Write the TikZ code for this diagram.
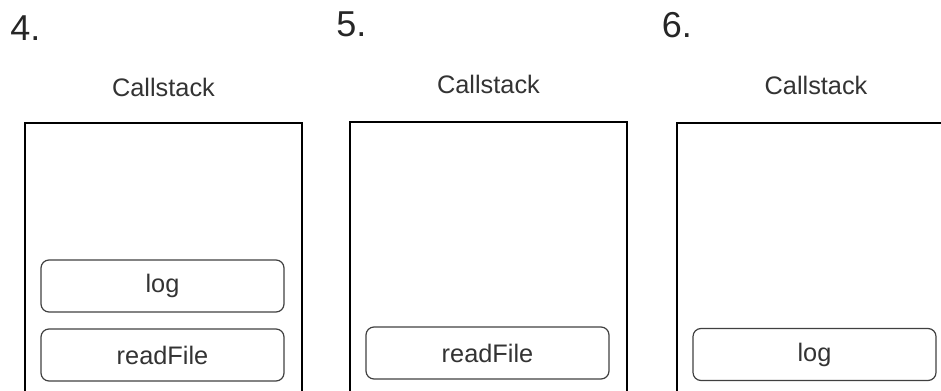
\documentclass[tikz,border=0pt]{standalone}
\usepackage{fontspec}
\setmainfont{Liberation Sans}
\begin{document}
\begin{tikzpicture}[x=0.75pt,y=-0.75pt,
  stackframe/.style={draw=black, line width=1.3pt, rectangle, anchor=north west,
    minimum width=207.75pt, minimum height=240pt, inner sep=0pt},
  callframe/.style={draw=black!75, line width=0.9pt, rectangle, rounded corners=6pt,
    minimum width=182.25pt, minimum height=39pt, inner sep=0pt,
    font=\fontsize{19}{22}\selectfont, text=black!80},
  stacktitle/.style={anchor=base, inner sep=0pt, font=\fontsize{19}{22}\selectfont, text=black!80},
  steplabel/.style={anchor=base west, inner sep=0pt, font=\fontsize{27}{30}\selectfont, text=black!85}]
  \useasboundingbox (0,0) rectangle (941,391);
  \clip (0,0) rectangle (941,391);

  % step 4
  \node[steplabel] (s4) at (10,41) {4.};
  \node[stacktitle] (t4) at (163.5,97) {Callstack};
  \node[stackframe] (p4) at (24,122) {};
  \node[callframe] (p4log) at (162.5,286) {log};
  \node[callframe] (p4read) at (162.5,355) {readFile};

  % step 5
  \node[steplabel] (s5) at (336,37) {5.};
  \node[stacktitle] (t5) at (488.5,94) {Callstack};
  \node[stackframe] (p5) at (349,121) {};
  \node[callframe] (p5read) at (487.5,353) {readFile};

  % step 6
  \node[steplabel] (s6) at (661.5,38) {6.};
  \node[stacktitle] (t6) at (816,95) {Callstack};
  \node[stackframe] (p6) at (676,122) {};
  \node[callframe] (p6log) at (814.5,354.5) {log};
\end{tikzpicture}
\end{document}
